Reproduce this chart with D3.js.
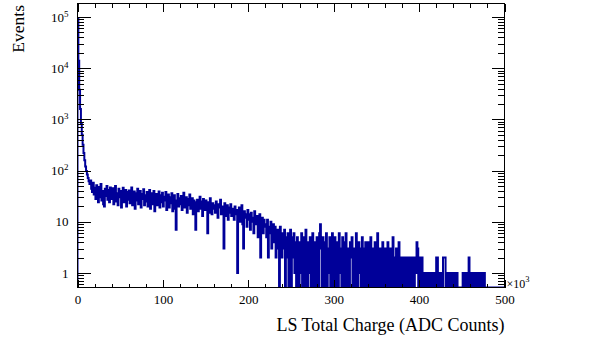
<!DOCTYPE html>
<html lang="en">
<head>
<meta charset="UTF-8">
<title>LS Total Charge</title>
<style>
  body { margin: 0; background: #fff; }
  svg { display: block; font-family: "Liberation Serif", "Times New Roman", serif; }
</style>
</head>
<body>
<svg width="593" height="349"></svg>
<script src="https://d3js.org/d3.v7.min.js"></script>
<script>
// histogram: 500 bins, 1 (x10^3 ADC) wide
const xDomain = [0, 500];
const binWidth = 1;
const yDomain = [0.521, 1.835e5];

const xMajorTicks = [0, 100, 200, 300, 400, 500];
const xMinorStep = 20;
const yMajorTicks = [1, 10, 100, 1000, 10000, 100000];
const yTickBase = ["1", "10", "10", "10", "10", "10"];
const yTickExp = ["", "", "2", "3", "4", "5"];

const counts0 = [
  95000, 14000, 3800, 1600, 850, 500, 320, 220, 160, 120, 98, 84, 72, 62, 55, 64, 44, 38, 58, 34,
  46, 28, 52, 36, 24, 48, 30, 55, 26, 40, 22, 20, 44, 32, 50, 27, 42, 24, 47, 35,
  28, 45, 22, 38, 50, 25, 36, 21, 44, 30, 40, 19, 35, 46, 24, 33, 42, 20, 38, 27,
  41, 23, 34, 47, 21, 30, 39, 18, 36, 26, 44, 22, 31, 40, 19, 35, 28, 43, 21, 33,
  25, 38, 20, 32, 42, 18, 29, 36, 22, 40, 16, 30, 35, 21, 27, 39, 19, 33, 24, 37
];
const counts100 = [
  20, 31, 26, 38, 17, 29, 34, 19, 30, 23, 36, 16, 28, 33, 18, 7, 26, 35, 20, 29,
  22, 32, 17, 27, 37, 19, 24, 30, 15, 28, 21, 34, 18, 25, 29, 14, 26, 20, 7, 24,
  27, 16, 23, 31, 18, 25, 13, 28, 20, 17, 26, 21, 6, 24, 15, 29, 19, 14, 23, 18,
  21, 15, 25, 17, 12, 22, 19, 27, 14, 20, 16, 3, 23, 13, 18, 21, 11, 19, 15, 22,
  13, 18, 16, 11, 20, 14, 17, 1, 12, 19, 10, 15, 21, 9, 3, 16, 12, 14, 8, 17
];
const counts200 = [
  11, 14, 7, 15, 10, 12, 6, 16, 9, 11, 13, 5, 10, 14, 2, 9, 12, 6, 11, 8,
  9, 5, 11, 2, 8, 6, 10, 3, 7, 9, 4, 8, 2, 6, 7, 3, 0, 8, 5, 2,
  6, 3, 7, 0, 5, 2, 6, 0, 4, 7, 0, 5, 2, 6, 1, 4, 0, 5, 3, 0,
  4, 1, 6, 0, 3, 5, 0, 7, 2, 0, 4, 1, 5, 0, 3, 6, 0, 2, 4, 0,
  5, 2, 0, 6, 9, 3, 0, 5, 1, 0, 4, 6, 0, 3, 1, 5, 0, 2, 6, 0
];
const counts300 = [
  3, 5, 0, 2, 4, 0, 6, 1, 3, 0, 5, 2, 0, 4, 6, 0, 1, 3, 0, 4,
  2, 5, 0, 3, 1, 0, 6, 2, 0, 4, 1, 3, 0, 5, 2, 0, 3, 4, 0, 1,
  4, 0, 2, 5, 0, 3, 1, 0, 4, 2, 0, 6, 1, 0, 3, 2, 0, 4, 1, 0,
  3, 1, 0, 4, 2, 0, 3, 1, 0, 5, 2, 0, 1, 3, 0, 2, 4, 0, 1, 2,
  0, 2, 1, 0, 2, 0, 1, 2, 0, 1, 2, 0, 1, 2, 0, 2, 1, 4, 3, 0
];
const counts400 = [
  2, 1, 0, 2, 1, 0, 1, 0, 1, 1, 0, 1, 0, 1, 1, 0, 1, 0, 1, 0,
  2, 2, 0, 1, 0, 1, 1, 0, 2, 2, 2, 0, 1, 0, 1, 1, 0, 1, 0, 1,
  1, 0, 1, 0, 1, 0, 0, 0, 0, 0, 0, 1, 0, 1, 1, 0, 1, 0, 2, 0,
  0, 1, 0, 1, 1, 0, 1, 0, 0, 1, 0, 1, 0, 1, 0, 1, 1, 0, 0, 0,
  0, 0, 0, 0, 0, 0, 0, 0, 0, 0, 0, 0, 0, 0, 0, 0, 0, 0, 0, 0
];
const counts = [].concat(counts0, counts100, counts200, counts300, counts400);

const svg = d3.select("svg");
const fLeft = 77.5, fRight = 504.5, fTop = 3.5, fBottom = 287.5;

const x = d3.scaleLinear().domain(xDomain).range([fLeft, fRight]);
const y = d3.scaleLog().domain(yDomain).range([fBottom, fTop]);

svg.append("defs").append("clipPath").attr("id", "frame")
  .append("rect")
  .attr("x", fLeft).attr("y", fTop)
  .attr("width", fRight - fLeft).attr("height", fBottom - fTop);

// step outline, empty bins sit on the frame bottom
const pts = [[xDomain[0], 0]];
counts.forEach((c, i) => {
  pts.push([i * binWidth, c]);
  pts.push([(i + 1) * binWidth, c]);
});
pts.push([xDomain[1], 0]);

const line = d3.line()
  .x(d => x(d[0]))
  .y(d => y(Math.max(d[1], yDomain[0])));

svg.append("path")
  .attr("d", line(pts))
  .attr("clip-path", "url(#frame)")
  .attr("fill", "none")
  .attr("stroke", "#000099")
  .attr("stroke-width", 2)
  .attr("stroke-linejoin", "miter");

// axes, ticks drawn inward like ROOT
const xMinor = d3.range(xDomain[0], xDomain[1] + 1, xMinorStep).filter(v => !xMajorTicks.includes(v));
const yMinor = y.ticks().filter(v => !yMajorTicks.includes(v));

function tickAxis(axis, vals, size, g) {
  g.call(axis.tickValues(vals).tickSize(size).tickSizeOuter(0).tickFormat(""));
  g.select(".domain").remove();
  g.selectAll("line").attr("stroke", "#000").attr("shape-rendering", "crispEdges");
}

tickAxis(d3.axisBottom(x), xMinor, -4, svg.append("g").attr("transform", `translate(0,${fBottom})`));
tickAxis(d3.axisTop(x), xMinor, -4, svg.append("g").attr("transform", `translate(0,${fTop})`));
tickAxis(d3.axisTop(x), xMajorTicks, -8, svg.append("g").attr("transform", `translate(0,${fTop})`));
tickAxis(d3.axisLeft(y), yMinor, -6.5, svg.append("g").attr("transform", `translate(${fLeft},0)`));
tickAxis(d3.axisRight(y), yMinor, -6.5, svg.append("g").attr("transform", `translate(${fRight},0)`));
tickAxis(d3.axisRight(y), yMajorTicks, -13, svg.append("g").attr("transform", `translate(${fRight},0)`));

const xAxis = svg.append("g")
  .attr("transform", `translate(0,${fBottom})`)
  .call(d3.axisBottom(x).tickValues(xMajorTicks).tickSize(-8).tickSizeOuter(0).tickPadding(7).tickFormat(d3.format("d")));
xAxis.select(".domain").remove();
xAxis.selectAll("line").attr("stroke", "#000").attr("shape-rendering", "crispEdges");
xAxis.selectAll("text").attr("font-family", "Liberation Serif").attr("font-size", 13).attr("fill", "#000");

const yAxis = svg.append("g")
  .attr("transform", `translate(${fLeft},0)`)
  .call(d3.axisLeft(y).tickValues(yMajorTicks).tickSize(-13).tickSizeOuter(0).tickPadding(9).tickFormat(""));
yAxis.select(".domain").remove();
yAxis.selectAll("line").attr("stroke", "#000").attr("shape-rendering", "crispEdges");
yAxis.selectAll("text")
  .attr("font-family", "Liberation Serif").attr("font-size", 13).attr("fill", "#000")
  .each(function(d, i) {
    const t = d3.select(this);
    t.append("tspan").text(yTickBase[i]);
    if (yTickExp[i]) {
      t.append("tspan").attr("font-size", 9).attr("dy", "-0.55em").text(yTickExp[i]);
    }
  });

// frame
svg.append("rect")
  .attr("x", fLeft).attr("y", fTop)
  .attr("width", fRight - fLeft).attr("height", fBottom - fTop)
  .attr("fill", "none").attr("stroke", "#000").attr("shape-rendering", "crispEdges");

// x10^3 multiplier
const mult = svg.append("text")
  .attr("x", fRight + 2).attr("y", fBottom)
  .attr("font-size", 12).attr("fill", "#000");
mult.append("tspan").text("\u00d710");
mult.append("tspan").attr("font-size", 8.5).attr("dy", "-0.6em").text("3");

// titles
svg.append("text")
  .attr("x", fRight).attr("y", 331)
  .attr("text-anchor", "end")
  .attr("font-size", 18).attr("fill", "#000")
  .text("LS Total Charge (ADC Counts)");

svg.append("text")
  .attr("transform", `translate(24,5) rotate(-90)`)
  .attr("text-anchor", "end")
  .attr("font-size", 17.5).attr("fill", "#000")
  .text("Events");
</script>
</body>
</html>
